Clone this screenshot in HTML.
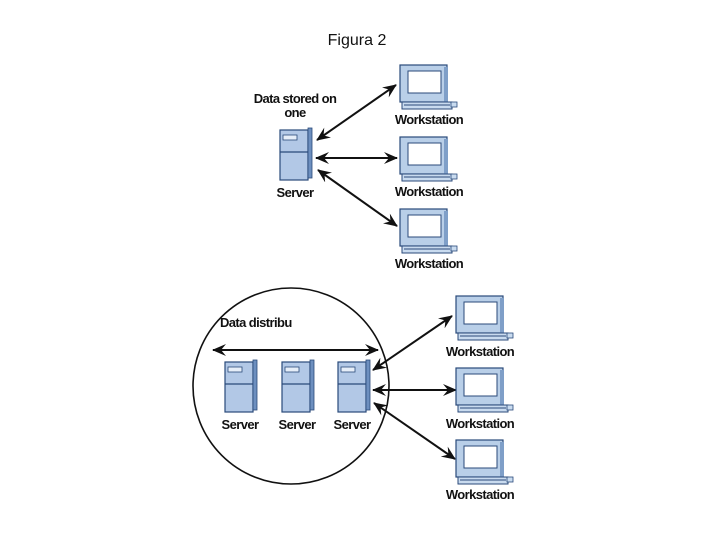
<!DOCTYPE html>
<html><head><style>
body{margin:0;background:#fff;width:720px;height:540px;overflow:hidden}
text{font-family:"Liberation Sans",Arial,sans-serif;font-weight:bold;font-size:13px;fill:#111;letter-spacing:-0.6px}
</style></head><body>
<svg width="720" height="540" viewBox="0 0 720 540" xmlns="http://www.w3.org/2000/svg">
<defs>
<marker id="a" viewBox="0 0 14 12" refX="13" refY="6" markerWidth="14" markerHeight="12" markerUnits="userSpaceOnUse" orient="auto-start-reverse">
<path d="M0,0 L14,6 L0,12 L5,6 z" fill="#111"/></marker>
<g id="ws">
<rect x="0" y="0" width="47" height="37" fill="#b9cfe8" stroke="#2a4a7a" stroke-width="1.2"/>
<rect x="8" y="6" width="33" height="22" fill="#fff" stroke="#2a4a7a"/>
<rect x="44" y="2" width="4" height="35" fill="#7f9fc8"/>
<rect x="2" y="37" width="50" height="7" fill="#c9dbef" stroke="#2a4a7a"/>
<line x1="4" y1="40" x2="50" y2="40" stroke="#2a4a7a"/>
<rect x="51" y="37" width="6" height="5" fill="#c9dbef" stroke="#2a4a7a" stroke-width="0.8"/>
</g>
<g id="sv">
<rect x="0" y="0" width="28" height="50" fill="#b2c8e6" stroke="#2a4a7a" stroke-width="1.2"/>
<rect x="28" y="-2" width="4" height="50" fill="#6d8fbf" stroke="#2a4a7a" stroke-width="0.8"/>
<rect x="3" y="5" width="14" height="5" fill="#e6eef8" stroke="#2a4a7a" stroke-width="0.8"/>
<line x1="0" y1="22" x2="28" y2="22" stroke="#2a4a7a" stroke-width="1.2"/>
</g>
</defs>
<text x="357" y="45" text-anchor="middle" style="font-weight:normal;font-size:16px;letter-spacing:0">Figura 2</text>
<text x="295" y="103" text-anchor="middle">Data stored on</text>
<text x="295" y="117" text-anchor="middle">one</text>
<use href="#sv" x="280" y="130"/>
<text x="295" y="197" text-anchor="middle">Server</text>
<use href="#ws" x="400" y="65"/>
<use href="#ws" x="400" y="137"/>
<use href="#ws" x="400" y="209"/>
<text x="429" y="124" text-anchor="middle">Workstation</text>
<text x="429" y="196" text-anchor="middle">Workstation</text>
<text x="429" y="268" text-anchor="middle">Workstation</text>
<g stroke="#111" stroke-width="2" marker-start="url(#a)" marker-end="url(#a)">
<line x1="317" y1="140" x2="396" y2="85"/>
<line x1="316" y1="158" x2="397" y2="158"/>
<line x1="318" y1="170" x2="397" y2="226"/>
<line x1="213" y1="350" x2="378" y2="350"/>
<line x1="373" y1="370" x2="452" y2="316"/>
<line x1="373" y1="390" x2="456" y2="390"/>
<line x1="374" y1="403" x2="455" y2="459"/>
</g>
<ellipse cx="291" cy="386" rx="98" ry="98" fill="none" stroke="#111" stroke-width="1.6"/>
<text x="220" y="327">Data distribu</text>
<use href="#sv" x="225" y="362"/>
<use href="#sv" x="282" y="362"/>
<use href="#sv" x="338" y="362"/>
<text x="240" y="429" text-anchor="middle">Server</text>
<text x="297" y="429" text-anchor="middle">Server</text>
<text x="352" y="429" text-anchor="middle">Server</text>
<use href="#ws" x="456" y="296"/>
<use href="#ws" x="456" y="368"/>
<use href="#ws" x="456" y="440"/>
<text x="480" y="356" text-anchor="middle">Workstation</text>
<text x="480" y="428" text-anchor="middle">Workstation</text>
<text x="480" y="499" text-anchor="middle">Workstation</text>
</svg>
</body></html>
